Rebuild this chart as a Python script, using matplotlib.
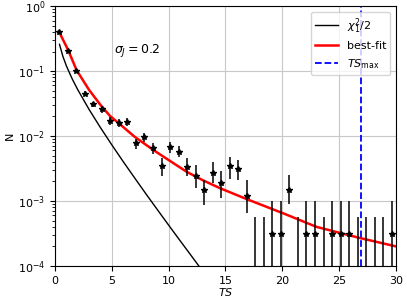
import numpy as np
import matplotlib
matplotlib.use('Agg')
import matplotlib.pyplot as plt

# binned TS distribution (bin centres, value, lower / upper end of error bar)
ts_bins = [0.375, 1.125, 1.875, 2.625, 3.375, 4.125, 4.875, 5.625, 6.375, 7.125,
           7.875, 8.625, 9.375, 10.125, 10.875, 11.625, 12.375, 13.125, 13.875, 14.625,
           15.375, 16.125, 16.875, 17.625, 18.375, 19.125, 19.875, 20.625, 21.375, 22.125,
           22.875, 23.625, 24.375, 25.125, 25.875, 26.625, 27.375, 28.125, 28.875, 29.625]
n_val = [0.40, 0.206, 0.100, 0.045, 0.031, 0.026, 0.0173, 0.0159, 0.0166, 0.0077,
         0.0095, 0.0065, 0.0034, 0.0068, 0.0057, 0.0033, 0.0024, 0.0015, 0.0027, 0.0019,
         0.0034, 0.0031, 0.0012, 0.0, 0.0, 3.1e-4, 3.1e-4, 0.0015, 0.0, 3.1e-4,
         3.1e-4, 0.0, 3.1e-4, 3.1e-4, 3.1e-4, 0.0, 0.0, 0.0, 0.0, 3.1e-4]
n_lo = [0.388, 0.198, 0.094, 0.041, 0.028, 0.023, 0.0150, 0.0140, 0.0145, 0.0063,
        0.0082, 0.0053, 0.0024, 0.0055, 0.0047, 0.0024, 0.0016, 0.00087, 0.0019, 0.0011,
        0.0022, 0.0021, 0.00065, 0.0, 0.0, 5.4e-5, 5.4e-5, 0.00089, 0.0, 5.4e-5,
        5.4e-5, 0.0, 5.4e-5, 5.4e-5, 5.4e-5, 0.0, 0.0, 0.0, 0.0, 5.4e-5]
n_hi = [0.412, 0.214, 0.106, 0.049, 0.034, 0.029, 0.0196, 0.0180, 0.0187, 0.0089,
        0.0110, 0.0079, 0.0046, 0.0082, 0.0071, 0.0046, 0.0036, 0.0021, 0.0040, 0.0029,
        0.0047, 0.0043, 0.0021, 5.7e-4, 5.7e-4, 1.0e-3, 1.0e-3, 0.0025, 5.7e-4, 1.0e-3,
        1.0e-3, 5.7e-4, 1.0e-3, 1.0e-3, 1.0e-3, 5.7e-4, 5.7e-4, 5.7e-4, 5.7e-4, 1.0e-3]

# chi2_1 / 2 curve
chi_ts = [0.4, 0.7, 1, 1.5, 2, 3, 4, 5, 6, 7, 8, 9, 10, 11, 12, 13]
chi_n = [0.258, 0.168, 0.121, 0.0769, 0.0519, 0.0257, 0.0135, 0.00732, 0.00405,
         0.00228, 0.00129, 7.39e-4, 4.25e-4, 2.46e-4, 1.43e-4, 8.3e-5]

# best-fit curve
fit_ts = [0.35, 1.17, 1.9, 3.0, 4.0, 4.84, 5.6, 7.0, 8.65, 10.0, 11.58, 13.0,
          14.5, 16.86, 20.08, 23.0, 26.8, 30.0]
fit_n = [0.407, 0.209, 0.1035, 0.0513, 0.0302, 0.0204, 0.0158, 0.00977, 0.0061,
         0.00427, 0.00282, 0.00209, 0.00158, 0.00107, 6.46e-4, 4.0e-4, 2.7e-4, 2.0e-4]

ts_max = 26.9
sigma_label = r'$\sigma_J = 0.2$'

plt.rcParams['font.size'] = 8

fig = plt.figure(figsize=(4.07, 3.05), dpi=100)
ax = fig.add_axes([0.135, 0.128, 0.838, 0.852])

ax.plot(chi_ts, chi_n, color='k', lw=1.0, label=r'$\chi^2_1/2$')
ax.plot(fit_ts, fit_n, color='red', lw=1.8, label='best-fit')
ax.axvline(ts_max, color='blue', ls='--', lw=1.3, label=r'$TS_{\rm max}$')

y = np.array(n_val)
yerr = [y - np.array(n_lo), np.array(n_hi) - y]
ax.errorbar(ts_bins, y, yerr=yerr, fmt='*', color='k', ms=4, elinewidth=1.1, capsize=0)

ax.text(5.2, 10 ** -0.68, sigma_label, fontsize=9, va='center')

ax.set_yscale('log', nonpositive='clip')
ax.set_xlim(0, 30)
ax.set_ylim(1e-4, 1)
ax.set_xlabel(r'$TS$', labelpad=0)
ax.set_ylabel('N', labelpad=2)
ax.grid(True, color='#c8c8c8', lw=0.8)
ax.legend(loc='upper right', fontsize=8, handlelength=2.0)

fig.savefig('out.png', dpi=100)
